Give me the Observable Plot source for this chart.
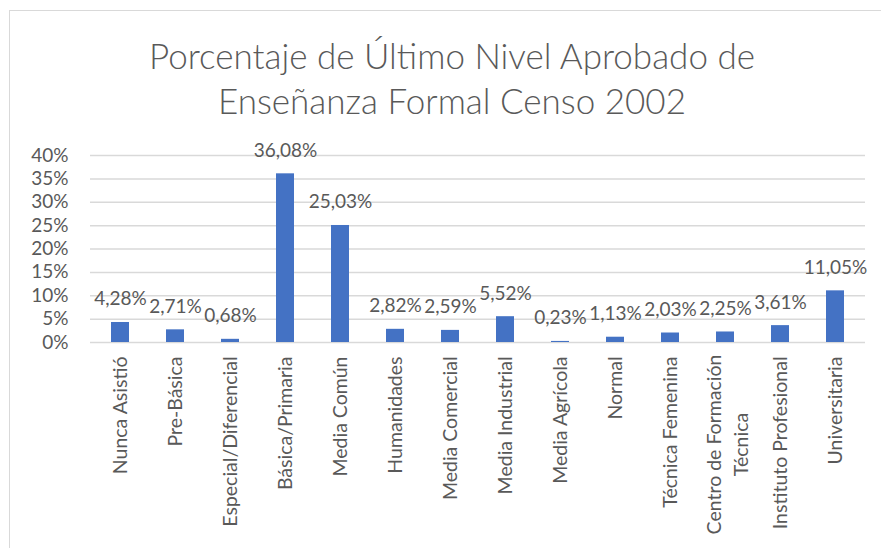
<!DOCTYPE html>
<html>
<head>
<meta charset="utf-8">
<script src="https://cdn.jsdelivr.net/npm/d3@7"></script>
<script src="https://cdn.jsdelivr.net/npm/@observablehq/plot@0.6"></script>
<style>
  html, body { margin: 0; padding: 0; background: #fff; width: 881px; height: 548px; overflow: hidden; }
  #frame { position: absolute; left: 9px; top: 10px; width: 900px; height: 600px; border: 1px solid #d9d9d9; box-sizing: border-box; }
  #title { position: absolute; left: 0; top: 33px; width: 904px; text-align: center; font-family: Lato, sans-serif; font-weight: 300; font-size: 35px; line-height: 45px; color: #595959; }
  #chart { position: absolute; left: 0; top: 130px; }
</style>
</head>
<body>
<div id="frame"></div>
<div id="title">Porcentaje de Último Nivel Aprobado de<br>Enseñanza Formal Censo 2002</div>
<div id="chart"></div>
<script>
const categories = ["Nunca Asistió", "Pre-Básica", "Especial/Diferencial", "Básica/Primaria", "Media Común", "Humanidades", "Media Comercial", "Media Industrial", "Media Agrícola", "Normal", "Técnica Femenina", "Centro de Formación Técnica", "Instituto Profesional", "Universitaria"];
const values = [4.28, 2.71, 0.68, 36.08, 25.03, 2.82, 2.59, 5.52, 0.23, 1.13, 2.03, 2.25, 3.61, 11.05];
const yTicks = [0, 5, 10, 15, 20, 25, 30, 35, 40];

const data = categories.map((c, i) => ({cat: c, value: values[i]}));
const fmt = v => v.toFixed(2).replace(".", ",") + "%";
const wrapped = "Centro de Formación Técnica";
const singleTicks = categories.filter(c => c !== wrapped);

const chart = Plot.plot({
  width: 881,
  height: 418,
  marginLeft: 90,
  marginRight: 16,
  marginTop: 25,
  marginBottom: 206,
  style: {fontFamily: "Lato, sans-serif", fontSize: "18px", color: "#595959", background: "transparent"},
  x: {domain: categories, paddingInner: 0.68, paddingOuter: 0.34, label: null},
  y: {domain: [0, 40], label: null},
  marks: [
    Plot.gridY(yTicks, {stroke: "#d9d9d9", strokeOpacity: 1, strokeWidth: 1.5}),
    Plot.axisY(yTicks, {tickSize: 0, tickPadding: 22, tickFormat: d => d + "%", fontSize: 19, fill: "#595959", label: null}),
    Plot.axisX(singleTicks, {tickSize: 0, tickPadding: 14, tickRotate: -90, fontSize: 19.5, fill: "#595959", label: null}),
    Plot.axisX([wrapped], {tickSize: 0, tickPadding: 102, tickRotate: -90, textAnchor: "middle", lineHeight: 1.4, tickFormat: () => "Centro de Formación\nTécnica", fontSize: 19.5, fill: "#595959", label: null}),
    Plot.barY(data, {x: "cat", y: "value", fill: "#4472c4"}),
    Plot.text(data, {x: "cat", y: "value", text: d => fmt(d.value), dy: -17, lineAnchor: "bottom", fontSize: 19, fill: "#595959"})
  ]
});
document.getElementById("chart").appendChild(chart);
</script>
</body>
</html>
